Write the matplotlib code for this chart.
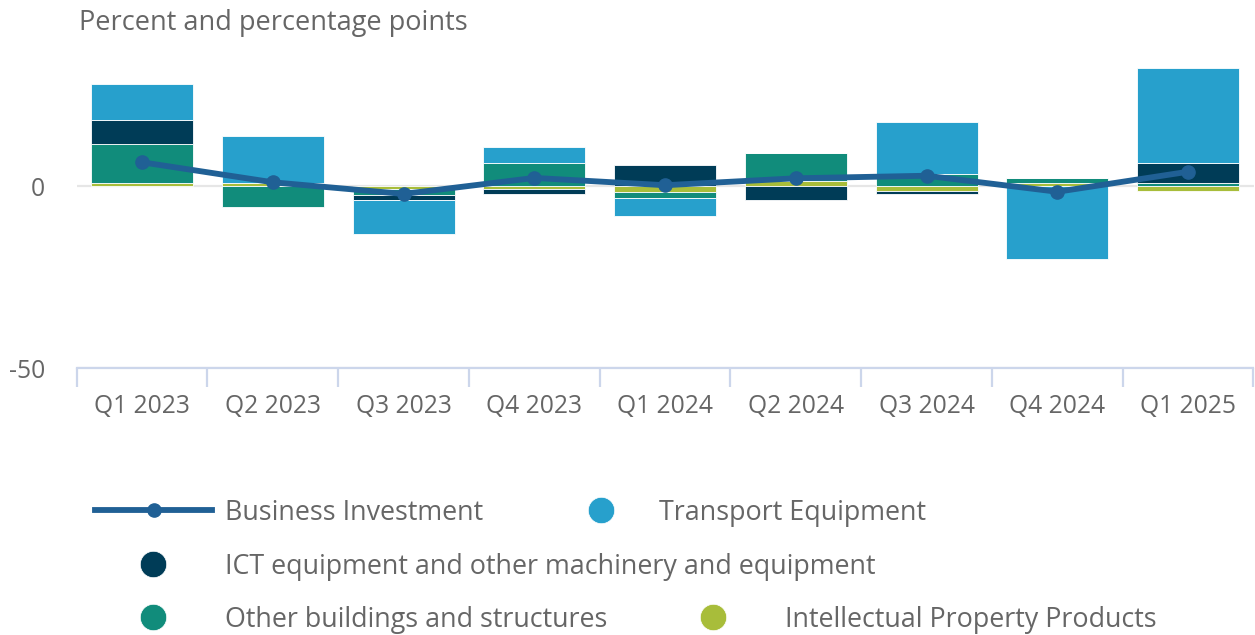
import matplotlib
matplotlib.use("Agg")
import matplotlib.pyplot as plt
from matplotlib.lines import Line2D
import numpy as np

plt.rcParams['font.family'] = ['Open Sans', 'DejaVu Sans']

categories = ["Q1 2023", "Q2 2023", "Q3 2023", "Q4 2023", "Q1 2024",
              "Q2 2024", "Q3 2024", "Q4 2024", "Q1 2025"]
business_investment = [6.6, 1.1, -2.1, 2.3, 0.3, 2.2, 2.9, -1.5, 4.0]
transport_equipment = [9.9, 12.9, -9.3, 4.3, -5.1, 0.0, 14.3, -19.9, 25.9]
ict_equipment = [6.6, 0.0, -1.6, -1.3, 5.9, -3.8, -0.6, 0.0, 5.5]
other_buildings = [10.6, -5.7, -1.6, 6.5, -1.6, 7.6, 3.4, 1.2, 1.0]
ipp = [1.0, 1.0, -0.7, -0.8, -1.5, 1.5, -1.4, 1.0, -1.4]

series_names = ["Business Investment", "Transport Equipment",
                "ICT equipment and other machinery and equipment",
                "Other buildings and structures", "Intellectual Property Products"]
c_line = "#206095"
c_te = "#27A0CC"
c_ict = "#003C57"
c_ob = "#118C7B"
c_ipp = "#A8BD3A"
text_col = "#666666"

W, H = 1255, 635
fig = plt.figure(figsize=(W / 100, H / 100), dpi=100)
x0, x1 = 76.7, 1253.5
y_top, y_bot = 58.9, 368.3
ax = fig.add_axes([x0 / W, 1 - y_bot / H, (x1 - x0) / W, (y_bot - y_top) / H])

x = np.arange(len(categories))
pos_bottom = np.zeros(len(categories))
neg_bottom = np.zeros(len(categories))
# stacking order from zero outward: IPP, OB, ICT, TE
for vals, col in [(ipp, c_ipp), (other_buildings, c_ob), (ict_equipment, c_ict),
                  (transport_equipment, c_te)]:
    v = np.array(vals, dtype=float)
    bottoms = np.where(v >= 0, pos_bottom, neg_bottom)
    ax.bar(x, v, bottom=bottoms, width=0.78, color=col, edgecolor="white",
           linewidth=0.6, zorder=2)
    pos_bottom = pos_bottom + np.where(v >= 0, v, 0)
    neg_bottom = neg_bottom + np.where(v < 0, v, 0)

ax.plot(x, business_investment, color=c_line, lw=4.2, marker="o", ms=9.5,
        zorder=4, solid_joinstyle="round")

ax.set_xlim(-0.5, len(categories) - 0.5)
ax.set_ylim(-50, 35)
ax.set_yticks([0, -50])
ax.set_yticklabels(["0", "-50"])
ax.yaxis.grid(True, color="#e6e6e6", lw=1.6, zorder=0)
ax.set_axisbelow(True)
for s in ["top", "right", "left"]:
    ax.spines[s].set_visible(False)
ax.spines["bottom"].set_color("#ccd6eb")
ax.spines["bottom"].set_linewidth(1.6)

ax.set_xticks(x)
ax.set_xticklabels(categories)
ax.set_xticks(np.arange(-0.5, len(categories)), minor=True)
ax.tick_params(axis="x", which="major", length=0, pad=18.5, labelsize=17.7,
               labelcolor=text_col)
ax.tick_params(axis="x", which="minor", length=14, width=1.6, color="#ccd6eb")
ax.tick_params(axis="y", length=0, pad=23, labelsize=17.7, labelcolor=text_col)

fig.text(79 / W, 1 - 23 / H, "Percent and percentage points", fontsize=19.5,
         color=text_col, ha="left", va="center")

# legend
fs_leg = 19.4
def fy(py):
    return 1 - py / H
def fx(px):
    return px / W

fig.add_artist(Line2D([fx(95), fx(212)], [fy(510), fy(510)], color=c_line, lw=4.2,
                      transform=fig.transFigure))
fig.add_artist(Line2D([fx(153.5)], [fy(510)], color=c_line, marker="o", ms=9.5,
                      transform=fig.transFigure))
fig.text(fx(225), fy(513), series_names[0], fontsize=fs_leg, color=text_col,
         va="center", ha="left")

items = [
    (601, 510, 659, c_te, series_names[1]),
    (153, 564, 225, c_ict, series_names[2]),
    (153, 617, 225, c_ob, series_names[3]),
    (713, 617, 785, c_ipp, series_names[4]),
]
for cx, cy, tx, col, name in items:
    fig.add_artist(Line2D([fx(cx)], [fy(cy)], color=col, marker="o", ms=19,
                          markeredgecolor="white", markeredgewidth=0.5,
                          transform=fig.transFigure))
    fig.text(fx(tx), fy(cy + 3), name, fontsize=fs_leg, color=text_col,
             va="center", ha="left")

fig.savefig("out.png", dpi=100)
